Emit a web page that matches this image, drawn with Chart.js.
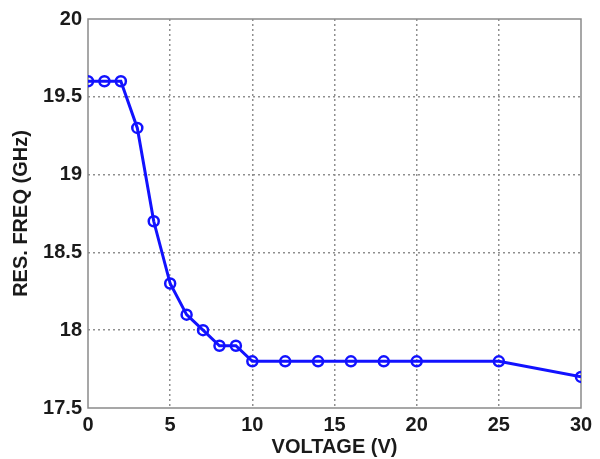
<!DOCTYPE html>
<html>
<head>
<meta charset="utf-8">
<script src="https://cdn.jsdelivr.net/npm/chart.js@4/dist/chart.umd.min.js"></script>
<style>
  html, body { margin: 0; padding: 0; background: #fff; }
  #wrap { width: 600px; height: 459px; }
</style>
</head>
<body>
<div id="wrap"><canvas id="freqChart"></canvas></div>
<script>
// Resonant frequency vs bias voltage
const voltages = [0, 1, 2, 3, 4, 5, 6, 7, 8, 9, 10, 12, 14, 16, 18, 20, 25, 30];
const resFreq = [19.6, 19.6, 19.6, 19.3, 18.7, 18.3, 18.1, 18.0, 17.9, 17.9, 17.8, 17.8, 17.8, 17.8, 17.8, 17.8, 17.8, 17.7];
const xTicks = [0, 5, 10, 15, 20, 25, 30];
const yTicks = [17.5, 18, 18.5, 19, 19.5, 20];

const FONT = "'Liberation Sans', Arial, sans-serif";

// closes the axes box on all four sides like the matlab figure
const boxPlugin = {
  id: "axesBox",
  beforeDatasetsDraw(chart) {
    const { ctx, chartArea: a } = chart;
    ctx.save();
    ctx.strokeStyle = "#8a8a8a";
    ctx.lineWidth = 1.5;
    ctx.strokeRect(a.left, a.top, a.right - a.left, a.bottom - a.top);
    ctx.restore();
  },
};

const points = voltages.map((v, i) => ({ x: v, y: resFreq[i] }));
const edgeHidden = (lo, hi) => (c) =>
  c.tick && (c.tick.value === lo || c.tick.value === hi) ? "rgba(0,0,0,0)" : "#8f8f8f";

new Chart(document.getElementById("freqChart"), {
  type: "line",
  data: {
    datasets: [
      {
        data: points,
        borderColor: "#1212ff",
        borderWidth: 3,
        pointStyle: "circle",
        pointRadius: 5,
        pointBorderWidth: 2.5,
        pointBorderColor: "#1212ff",
        pointBackgroundColor: "rgba(255,255,255,0)",
        tension: 0,
      },
    ],
  },
  options: {
    responsive: true,
    maintainAspectRatio: false,
    animation: false,
    layout: { padding: { top: 19, right: 19, left: 0, bottom: 0 } },
    plugins: { legend: { display: false }, tooltip: { enabled: false } },
    scales: {
      x: {
        type: "linear",
        min: 0,
        max: 30,
        afterBuildTicks: (s) => { s.ticks = xTicks.map((v) => ({ value: v })); },
        afterFit: (s) => { s.height = 51; },
        border: { display: false, dash: [2, 3] },
        grid: { color: edgeHidden(0, 30), lineWidth: 1.5, drawTicks: false },
        ticks: {
          padding: 5,
          color: "#1a1a1a",
          callback: (v) => String(v),
          font: { family: FONT, size: 20, weight: "bold" },
        },
        title: {
          display: true,
          text: "VOLTAGE (V)",
          color: "#1a1a1a",
          padding: { top: 0, bottom: 0 },
          font: { family: FONT, size: 20, weight: "bold" },
        },
      },
      y: {
        min: 17.5,
        max: 20,
        afterBuildTicks: (s) => { s.ticks = yTicks.map((v) => ({ value: v })); },
        afterFit: (s) => { s.width = 88; },
        border: { display: false, dash: [2, 3] },
        grid: { color: edgeHidden(17.5, 20), lineWidth: 1.5, drawTicks: false },
        ticks: {
          padding: 6,
          color: "#1a1a1a",
          callback: (v) => String(v),
          font: { family: FONT, size: 20, weight: "bold" },
        },
        title: {
          display: true,
          text: "RES. FREQ (GHz)",
          color: "#1a1a1a",
          padding: { top: 9, bottom: 0 },
          font: { family: FONT, size: 20, weight: "bold" },
        },
      },
    },
  },
  plugins: [boxPlugin],
});
</script>
</body>
</html>
